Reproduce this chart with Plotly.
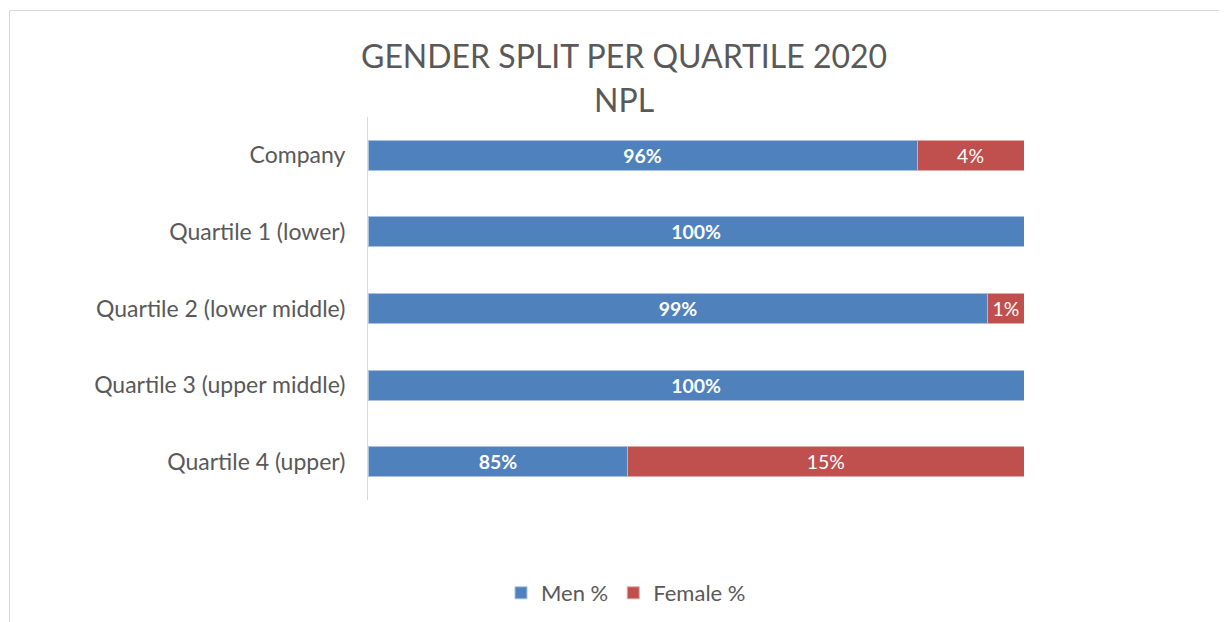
import plotly.graph_objects as go

categories = ["Company", "Quartile 1 (lower)", "Quartile 2 (lower middle)",
              "Quartile 3 (upper middle)", "Quartile 4 (upper)"]
# bar lengths as drawn (share of full bar)
men_share = [83.7, 100, 94.5, 100, 39.6]
female_share = [16.3, 0, 5.5, 0, 60.4]
# data labels as printed
men_labels = ["96%", "100%", "99%", "100%", "85%"]
female_labels = ["4%", "", "1%", "", "15%"]

OFF = 8  # page body margin
W, H = 1227, 622
L, R, T, B = 368 - OFF, 1227 - 1024 + OFF, 117 - OFF, 622 - 500 + OFF
pw, ph = W - L - R, H - T - B

def px(x):
    return (x - OFF - L) / pw

def py(y):
    return (H - B - (y - OFF)) / ph

FONT = "Lato"
GRAY = "#595959"

fig = go.Figure()
fig.add_trace(go.Bar(
    y=categories, x=men_share, orientation="h", name="Men %",
    marker=dict(color="#4F81BD", line=dict(color="#A9C0DE", width=1)),
    text=men_labels, textposition="inside", insidetextanchor="middle",
    textfont=dict(color="white", size=22, family=FONT, weight="bold"),
    width=0.39,
))
fig.add_trace(go.Bar(
    y=categories, x=female_share, orientation="h", name="Female %",
    marker=dict(color="#C0504D", line=dict(color="#E0A8A6", width=1)),
    text=female_labels, textposition="inside", insidetextanchor="middle",
    textfont=dict(color="white", size=22, family=FONT),
    width=0.39,
))

fig.update_layout(
    width=W, height=H, barmode="stack",
    margin=dict(l=L, r=R, t=T, b=B, autoexpand=False),
    paper_bgcolor="white", plot_bgcolor="white",
    font=dict(family=FONT, color=GRAY, size=22),
    uniformtext=dict(mode=False),
    showlegend=True,
    legend=dict(orientation="h", x=px(626), xanchor="center", y=py(593), yanchor="middle",
                font=dict(size=22, color=GRAY), traceorder="normal"),
    xaxis=dict(range=[0, 100], visible=False, fixedrange=True),
    yaxis=dict(autorange="reversed", showline=True, linecolor="#D9D9D9", linewidth=1,
               ticks="", showgrid=False, ticklabelstandoff=17,
               tickfont=dict(size=23, color=GRAY)),
    annotations=[
        dict(text="GENDER SPLIT PER QUARTILE 2020", x=px(623.5), y=py(55), xref="paper", yref="paper",
             showarrow=False, font=dict(size=32, color=GRAY), xanchor="center", yanchor="middle"),
        dict(text="NPL", x=px(623.5), y=py(100), xref="paper", yref="paper",
             showarrow=False, font=dict(size=32, color=GRAY), xanchor="center", yanchor="middle"),
    ],
    shapes=[
        dict(type="line", xref="paper", yref="paper", x0=px(9.5), x1=px(1240), y0=py(10.5), y1=py(10.5),
             line=dict(color="#D9D9D9", width=1)),
        dict(type="line", xref="paper", yref="paper", x0=px(9.5), x1=px(9.5), y0=py(10.5), y1=py(640),
             line=dict(color="#D9D9D9", width=1)),
    ],
)

fig.write_html("out.html")
